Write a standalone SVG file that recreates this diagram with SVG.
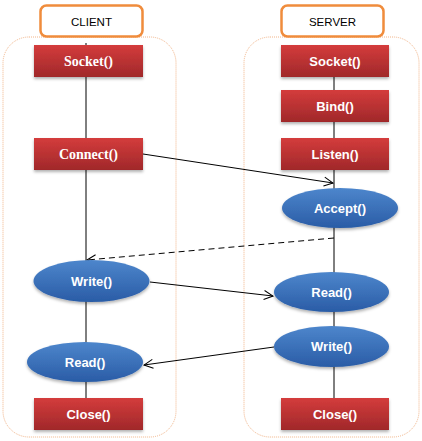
<svg xmlns="http://www.w3.org/2000/svg" width="422" height="441" viewBox="0 0 422 441">
<style>
.hdr{fill:#fff;stroke:#f08c3c;stroke-width:2.5}
.cont{fill:none;stroke:#f2b488;stroke-width:1;stroke-dasharray:1 1}
.rbox{fill:url(#red);filter:url(#sh)}
.ell{fill:url(#blue);filter:url(#sh)}
.ht{font-family:"Liberation Sans",Arial,sans-serif;font-size:11.5px;fill:#000;text-anchor:middle}
.nt{font-family:"Liberation Sans",Arial,sans-serif;font-size:13px;font-weight:bold;fill:#fff;text-anchor:middle}
.st{font-family:"Liberation Serif","Times New Roman",serif;font-size:14px;font-weight:bold;fill:#fff;text-anchor:middle}
.ln{stroke:#000;stroke-width:1;fill:none}
.dash{stroke-dasharray:6 4}
</style>
<defs>
<linearGradient id="red" x1="0" y1="0" x2="0" y2="1">
<stop offset="0" stop-color="#d43c3c"/>
<stop offset="1" stop-color="#a0282a"/>
</linearGradient>
<linearGradient id="blue" x1="0" y1="0" x2="0" y2="1">
<stop offset="0" stop-color="#4d86cc"/>
<stop offset="1" stop-color="#2a5ca6"/>
</linearGradient>
<filter id="sh" x="-20%" y="-20%" width="140%" height="160%">
<feDropShadow dx="0" dy="2" stdDeviation="1.5" flood-color="#000" flood-opacity="0.3"/>
</filter>
<marker id="arr" markerUnits="userSpaceOnUse" markerWidth="12" markerHeight="12" refX="10" refY="5" orient="auto" viewBox="0 0 12 10">
<path d="M1,0.5 L10,5 L1,9.5" fill="none" stroke="#000" stroke-width="1"/>
</marker>
</defs>

<g id="client-lane">
<rect class="cont" x="3" y="37" width="173" height="400" rx="26"/>
</g>
<g id="server-lane">
<rect class="cont" x="244" y="37" width="175" height="400" rx="26"/>
</g>

<g id="connectors">
<line class="ln" x1="86" y1="43" x2="86" y2="398"/>
<line class="ln" x1="334" y1="77" x2="334" y2="398"/>
<line class="ln" x1="143" y1="154" x2="333" y2="183" marker-end="url(#arr)"/>
<line class="ln dash" x1="334" y1="238" x2="87" y2="260" marker-end="url(#arr)"/>
<line class="ln" x1="150" y1="282" x2="273" y2="296" marker-end="url(#arr)"/>
<line class="ln" x1="274" y1="347" x2="144" y2="365" marker-end="url(#arr)"/>
</g>

<g id="client-header">
<rect class="hdr" x="40.5" y="5.5" width="102" height="31" rx="6"/>
<text class="ht" x="91.5" y="25.5">CLIENT</text>
</g>
<g id="server-header">
<rect class="hdr" x="281.5" y="5.5" width="102" height="31" rx="6"/>
<text class="ht" x="332.5" y="25.5">SERVER</text>
</g>

<g id="client-socket">
<rect class="rbox" x="34" y="45" width="109" height="32"/>
<text class="st" x="88.5" y="66">Socket()</text>
</g>
<g id="client-connect">
<rect class="rbox" x="34" y="138" width="109" height="32"/>
<text class="st" x="88.5" y="159">Connect()</text>
</g>
<g id="client-write">
<ellipse class="ell" cx="91.5" cy="281" rx="58" ry="21"/>
<text class="nt" x="91.5" y="285.5">Write()</text>
</g>
<g id="client-read">
<ellipse class="ell" cx="85" cy="362" rx="58" ry="20"/>
<text class="nt" x="85" y="366.5">Read()</text>
</g>
<g id="client-close">
<rect class="rbox" x="34" y="398" width="109" height="32"/>
<text class="nt" x="88.5" y="418.5">Close()</text>
</g>

<g id="server-socket">
<rect class="rbox" x="281" y="45" width="108" height="32"/>
<text class="nt" x="335" y="65.5">Socket()</text>
</g>
<g id="server-bind">
<rect class="rbox" x="281" y="90" width="108" height="32"/>
<text class="nt" x="335" y="110.5">Bind()</text>
</g>
<g id="server-listen">
<rect class="rbox" x="281" y="138" width="108" height="32"/>
<text class="nt" x="335" y="158.5">Listen()</text>
</g>
<g id="server-accept">
<ellipse class="ell" cx="340" cy="208" rx="58" ry="20"/>
<text class="nt" x="340" y="212.5">Accept()</text>
</g>
<g id="server-read">
<ellipse class="ell" cx="331.5" cy="292" rx="57.5" ry="20"/>
<text class="nt" x="331.5" y="296.5">Read()</text>
</g>
<g id="server-write">
<ellipse class="ell" cx="331.5" cy="346.5" rx="57.5" ry="20.5"/>
<text class="nt" x="331.5" y="351">Write()</text>
</g>
<g id="server-close">
<rect class="rbox" x="281" y="398" width="108" height="32"/>
<text class="nt" x="335" y="418.5">Close()</text>
</g>
</svg>
